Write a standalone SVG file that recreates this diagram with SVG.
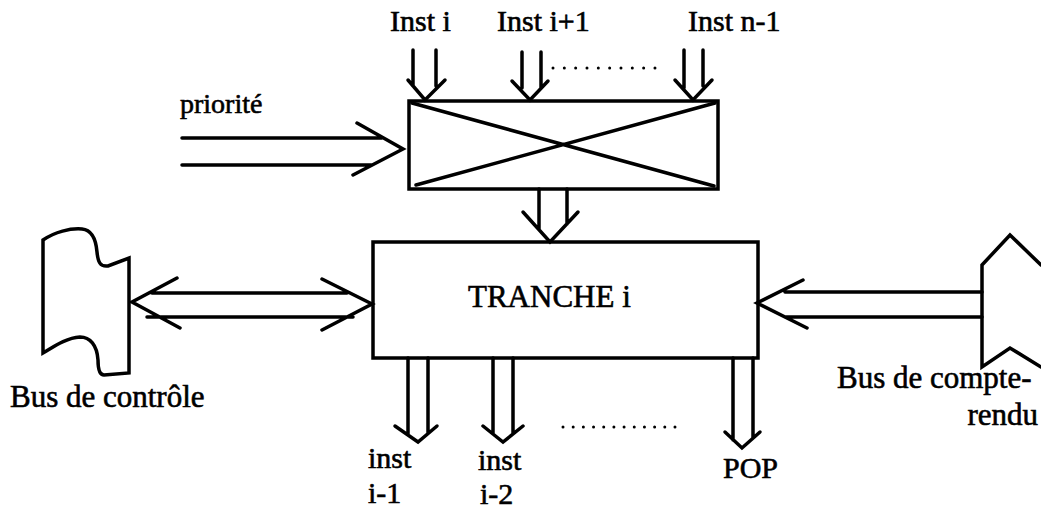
<svg xmlns="http://www.w3.org/2000/svg" width="1041" height="508" viewBox="0 0 1041 508">
<style>
.s{fill:none;stroke:#000;stroke-width:3.5;stroke-linejoin:miter;stroke-linecap:round}
.b{fill:#fff;stroke:#000;stroke-width:3.5}
.d{fill:none;stroke:#000;stroke-width:3;stroke-linecap:round}
text{font-family:"Liberation Serif","Times New Roman",serif;font-size:30px;fill:#000;stroke:#000;stroke-width:0.6}
</style>
<rect width="1041" height="508" fill="#fff"/>
<g id="crossbar">
<rect class="b" x="409" y="101" width="309" height="88"/>
<path class="s" d="M412,103 L714,186 M416,185 L715,103"/>
</g>
<g id="tranche">
<rect class="b" x="373" y="242" width="385" height="116"/>
<text x="468" y="307" style="font-size:31px">TRANCHE i</text>
</g>
<g id="bus-controle">
<path class="s" d="M43,240 C55,232 70,228 82,229 C92,230 96,240 97,252 C98,262 100,267 108,266 L129,258 L129,373 L104,375 C99,375 98,368 98,360 C97,345 90,337 80,337 C65,338 52,348 43,353 Z"/>
<text x="10" y="407" style="font-size:31px">Bus de contrôle</text>
</g>
<g id="bus-compte-rendu">
<path class="s" d="M1041,265 L1010,235 L982,265 L982,367 L1010,348 L1041,367"/>
<text x="837" y="388" style="font-size:31px">Bus de compte-</text>
<text x="1038" y="425" text-anchor="end" style="font-size:31px">rendu</text>
</g>
<g id="labels">
<text x="180" y="113" style="font-size:28px">priorité</text>
<text x="390" y="31">Inst i</text>
<text x="497" y="31">Inst i+1</text>
<text x="688" y="31">Inst n-1</text>
<text x="368" y="468">inst</text>
<text x="368" y="503">i-1</text>
<text x="478" y="470">inst</text>
<text x="480" y="504">i-2</text>
<text x="723" y="478">POP</text>
</g>
<g id="connectors">
<path class="s" d="M413,50 L413,86 M436,50 L436,86 M408,80 L425,100 L445,80"/>
<path class="s" d="M522,52 L522,88 M541,52 L541,88 M512,81 L530,100 L548,81"/>
<path class="s" d="M684,50 L684,88 M703,50 L703,86 M675,80 L693,100 L712,80"/>
<line class="d" x1="553" y1="68" x2="655" y2="68" stroke-dasharray="0 11.33"/>
<path class="s" d="M539,189 L539,229 M567,189 L567,224 M523,212 L550,242 L578,212"/>
<path class="s" d="M182,138 L382,138 M182,165 L372,165 M357,123 L403,149 L353,175"/>
<path class="s" d="M152,293 L347,293 M147,317 L353,317 M177,278 L132,302 L180,328 M322,279 L372,304 L322,330"/>
<path class="s" d="M785,292 L982,292 M785,317 L982,317 M803,280 L757,303 L807,328"/>
<path class="s" d="M408,358 L408,434 M428,358 L428,433 M395,426 L418,442 L437,426"/>
<path class="s" d="M493,358 L493,434 M513,358 L513,433 M483,426 L503,442 L523,426"/>
<path class="s" d="M733,358 L733,440 M753,358 L753,438 M725,432 L742,448 L760,432"/>
<line class="d" x1="563" y1="427" x2="675" y2="427" stroke-dasharray="0 10.18"/>
</g>
</svg>
